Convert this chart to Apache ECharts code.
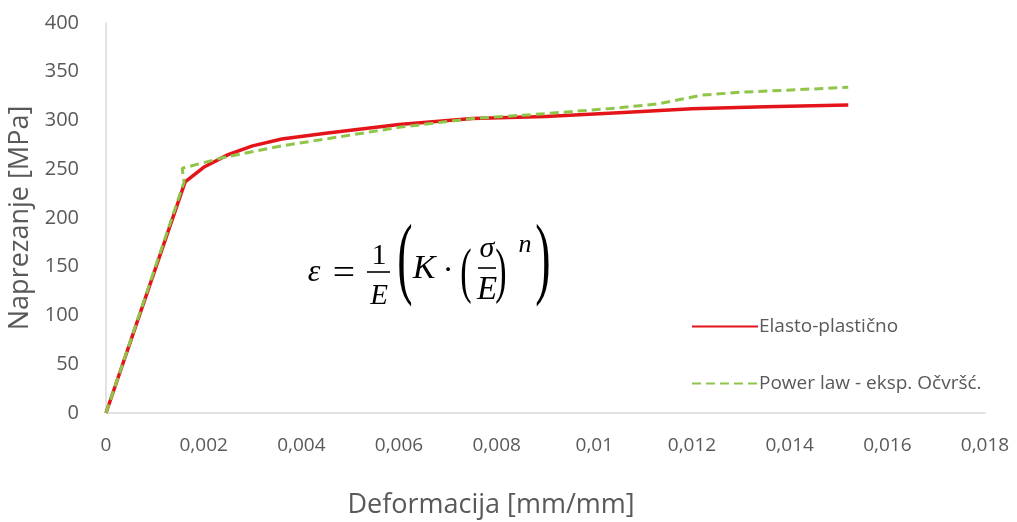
<!DOCTYPE html>
<html><head><meta charset="utf-8">
<script src="https://cdn.jsdelivr.net/npm/echarts@6/dist/echarts.min.js"></script>
<style>html,body{margin:0;padding:0;background:#fff}#c{width:1017px;height:522px}</style>
</head><body><div id="c"></div>
<script>
const xTicks = [0, 0.002, 0.004, 0.006, 0.008, 0.01, 0.012, 0.014, 0.016, 0.018];
const yTicks = [0, 50, 100, 150, 200, 250, 300, 350, 400];
const seriesNames = ['Elasto-plastično', 'Power law - eksp. Očvršć.'];
const xAxisTitle = 'Deformacija [mm/mm]';
const yAxisTitle = 'Naprezanje [MPa]';
const elastoX = [0, 0.00162, 0.002, 0.0025, 0.003, 0.0036, 0.0045, 0.006, 0.0075, 0.009, 0.0105, 0.012, 0.0135, 0.0152];
const elastoY = [0, 237, 252, 265, 274, 281, 287, 296, 302, 304, 308, 312, 314, 316];
const powerX = [0, 0.0016, 0.00156, 0.0024, 0.0036, 0.005, 0.006, 0.0075, 0.009, 0.0105, 0.0113, 0.0118, 0.0122, 0.013, 0.0152];
const powerY = [0, 237, 251, 262, 274, 285, 293, 302, 307, 313, 317, 322, 326, 329, 334];

const FONT = '"Open Sans", sans-serif';
const GREY = '#595959';
const zip = (xs, ys) => xs.map((x, i) => [x, ys[i]]);
const fmt = v => String(Number(v.toFixed(3))).replace('.', ',');

const SERIF = '"Liberation Serif", serif';
function t(x, y, s, font, extra) {
  return Object.assign({type: 'text', x: x, y: y, style: {text: s, font: font + ' ' + SERIF, fill: '#000', align: 'center', verticalAlign: 'middle'}}, extra || {});
}
function ln(x1, x2, y) {
  return {type: 'line', shape: {x1: x1, y1: y, x2: x2, y2: y}, style: {stroke: '#000', lineWidth: 1.6}};
}
const formula = [
  t(314, 273, 'ε', 'italic 32px'),
  t(344, 275, '=', '36px', {scaleX: 1.1}),
  t(379, 256, '1', '30px'),
  ln(367, 390, 272),
  t(379, 296, 'E', 'italic 29px'),
  t(405, 263, '(', '92px', {scaleX: 0.5}),
  t(424, 269, 'K', 'italic 34px'),
  t(448, 272, '·', '32px'),
  t(466, 275, '(', '62px', {scaleX: 0.55}),
  t(487, 249, 'σ', 'italic 30px'),
  ln(478, 496, 268),
  t(487, 290, 'E', 'italic 33px'),
  t(501, 275, ')', '62px', {scaleX: 0.55}),
  t(525, 245, 'n', 'italic 26px'),
  t(543, 263, ')', '92px', {scaleX: 0.5}),
  {type: 'text', x: 491, y: 505, style: {text: xAxisTitle, font: '27px ' + FONT, fill: GREY, align: 'center', verticalAlign: 'middle'}}
];

const chart = echarts.init(document.getElementById('c'));
chart.setOption({
  animation: false,
  backgroundColor: '#fff',
  grid: {left: 106, right: 32, top: 23, bottom: 109, containLabel: false, outerBoundsMode: 'none'},
  xAxis: {
    type: 'value', min: xTicks[0], max: xTicks[xTicks.length - 1], interval: 0.002,
    axisLine: {show: true, lineStyle: {color: '#d9d9d9', width: 1.5}},
    axisTick: {show: false}, splitLine: {show: false},
    axisLabel: {fontFamily: FONT, fontSize: 19, color: GREY, margin: 23, formatter: fmt}
  },
  yAxis: {
    type: 'value', min: yTicks[0], max: yTicks[yTicks.length - 1], interval: 50,
    name: yAxisTitle, nameLocation: 'middle', nameGap: 64, nameRotate: 90,
    nameTextStyle: {fontFamily: FONT, fontSize: 27, color: GREY},
    axisLine: {show: true, lineStyle: {color: '#d9d9d9', width: 1.5}},
    axisTick: {show: false}, splitLine: {show: false},
    axisLabel: {fontFamily: FONT, fontSize: 20, color: GREY, margin: 27}
  },
  legend: {
    orient: 'vertical', left: 686, top: 312, itemWidth: 66, itemHeight: 14, itemGap: 38,
    itemStyle: {opacity: 0},
    textStyle: {fontFamily: FONT, fontSize: 19, color: GREY, padding: [0, 0, 0, -4]},
    data: seriesNames
  },
  series: [
    {name: seriesNames[0], type: 'line', data: zip(elastoX, elastoY), symbol: 'none', smooth: false,
     lineStyle: {color: '#e3151a', width: 3.5}, itemStyle: {color: '#e3151a'}, z: 2},
    {name: seriesNames[1], type: 'line', data: zip(powerX, powerY), symbol: 'none', smooth: false,
     lineStyle: {color: '#8fc64a', width: 3, type: [9, 5]}, itemStyle: {color: '#8fc64a'}, z: 3}
  ],
  graphic: formula
});
</script></body></html>
